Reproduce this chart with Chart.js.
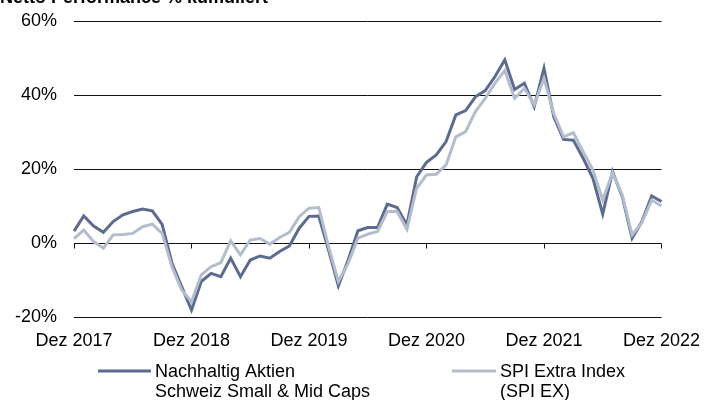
<!DOCTYPE html>
<html>
<head>
<meta charset="utf-8">
<script src="https://cdn.jsdelivr.net/npm/chart.js@4/dist/chart.umd.min.js"></script>
<style>
  body { margin: 0; background: #fff; }
  #wrap { width: 713px; height: 400px; position: relative; }
</style>
</head>
<body>
<div id="wrap"><canvas id="perfChart"></canvas></div>
<script>
const monate = ['Jan', 'Feb', 'Mär', 'Apr', 'Mai', 'Jun', 'Jul', 'Aug', 'Sep', 'Okt', 'Nov', 'Dez']

// Dez 2017 .. Dez 2022, monatlich
const labels = ['Dez 2017']
for (let jahr = 2018; jahr <= 2022; jahr++) {
  monate.forEach(m => labels.push(m + ' ' + jahr))
}

const yTicks = [-20, 0, 20, 40, 60]

const fonds = [
  3.2, 7.3, 4.6, 2.9, 5.8, 7.6, 8.5, 9.2, 8.7, 5.0, -5.4, -11.8,
  -18.1, -10.4, -8.2, -9.1, -4.1, -9.1, -4.6, -3.5, -4.1, -2.3, -0.8, 4.0,
  7.2, 7.3, -1.9, -11.6, -4.6, 3.3, 4.2, 4.2, 10.5, 9.6, 4.9, 17.9,
  21.8, 23.8, 27.4, 34.6, 35.8, 39.5, 41.2, 45.0, 49.5, 41.5, 43.2, 36.8,
  47.2, 34.1, 28.0, 27.8, 22.9, 17.5, 7.8, 19.3, 12.5, 1.3, 5.8, 12.7,
  11.2,
]

const spiEx = [
  1.2, 3.5, 0.4, -1.4, 2.2, 2.3, 2.6, 4.4, 5.1, 2.6, -6.4, -12.7,
  -15.9, -8.6, -6.4, -5.3, 0.6, -3.2, 0.8, 1.2, -0.3, 1.5, 2.9, 7.1,
  9.4, 9.6, -1.0, -10.4, -5.5, 1.3, 2.4, 3.1, 8.5, 8.5, 3.7, 14.8,
  18.4, 18.6, 21.1, 28.7, 30.1, 35.5, 39.1, 43.2, 46.6, 39.1, 41.8, 37.3,
  44.5, 35.0, 28.7, 29.8, 24.7, 19.7, 11.6, 19.0, 13.0, 2.2, 5.5, 11.6,
  10.0,
]

const legendText = [
  ['Nachhaltig Aktien', 'Schweiz Small & Mid Caps'],
  ['SPI Extra Index', '(SPI EX)'],
]

const FONT = 'Arial, "Liberation Sans", sans-serif'
const dunkel = 'rgb(93, 107, 142)'
const hell = 'rgb(180, 189, 205)'

// Titel, Jahres-Ticks auf der Nulllinie und zweizeilige Legende
const extras = {
  id: 'extras',
  afterDraw(chart) {
    const c = chart.ctx
    const x = chart.scales.x
    const y = chart.scales.y
    c.save()

    c.fillStyle = '#000'
    c.font = 'bold 18px ' + FONT
    c.textBaseline = 'alphabetic'
    c.textAlign = 'left'
    c.fillText('Netto Performance % kumuliert', 0, 3)

    c.strokeStyle = '#111'
    c.lineWidth = 1
    const y0 = Math.round(y.getPixelForValue(0)) + 0.5
    for (let i = 0; i < labels.length; i += 12) {
      const px = Math.round(x.getPixelForValue(i)) + 0.5
      c.beginPath()
      c.moveTo(px, y0)
      c.lineTo(px, y0 + 5)
      c.stroke()
    }

    const items = [
      { lx: 98, tx: 155 },
      { lx: 452, tx: 500 },
    ]
    c.font = '18px ' + FONT
    c.textBaseline = 'middle'
    chart.data.datasets.forEach((ds, k) => {
      const it = items[k]
      c.strokeStyle = ds.borderColor
      c.lineWidth = 3
      c.beginPath()
      c.moveTo(it.lx, 371)
      c.lineTo(it.tx - 4, 371)
      c.stroke()
      c.fillStyle = '#000'
      legendText[k].forEach((t, j) => c.fillText(t, it.tx, 372 + j * 20))
    })
    c.restore()
  }
}

const config = {
  type: 'line',
  data: {
    labels,
    datasets: [
      {
        label: legendText[0].join(' '),
        data: fonds,
        borderColor: dunkel,
        borderWidth: 3,
        pointRadius: 0,
        tension: 0,
        order: 1,
      },
      {
        label: legendText[1].join(' '),
        data: spiEx,
        borderColor: hell,
        borderWidth: 3,
        pointRadius: 0,
        tension: 0,
        order: 0,
      },
    ]
  },
  options: {
    responsive: true,
    maintainAspectRatio: false,
    animation: false,
    layout: { padding: { left: 0, right: 39, top: 21, bottom: 0 } },
    plugins: {
      legend: { display: false },
      tooltip: { enabled: false },
    },
    scales: {
      x: {
        type: 'category',
        offset: false,
        border: { display: false },
        grid: { display: false, drawTicks: false },
        ticks: {
          autoSkip: false,
          maxRotation: 0,
          padding: 13,
          color: '#000',
          font: { family: FONT, size: 18 },
          callback: (v, i) => (i % 12 === 0 ? labels[i] : ''),
        },
        afterFit: s => { s.height = 83 },
      },
      y: {
        min: -20,
        max: 60,
        afterBuildTicks: s => { s.ticks = yTicks.map(v => ({ value: v })) },
        border: { display: false },
        // unsichtbare Tick-Striche schaffen den Abstand zwischen Beschriftung und Linien
        grid: { color: '#111', lineWidth: 1, drawTicks: true, tickLength: 17, tickColor: 'rgba(0,0,0,0)' },
        ticks: {
          padding: 0,
          color: '#000',
          font: { family: FONT, size: 18 },
          callback: v => v + '%',
        },
        afterFit: s => { s.width = 74 },
      }
    }
  },
  plugins: [extras]
}

const myChart = new Chart(document.getElementById('perfChart'), config)
</script>
</body>
</html>
